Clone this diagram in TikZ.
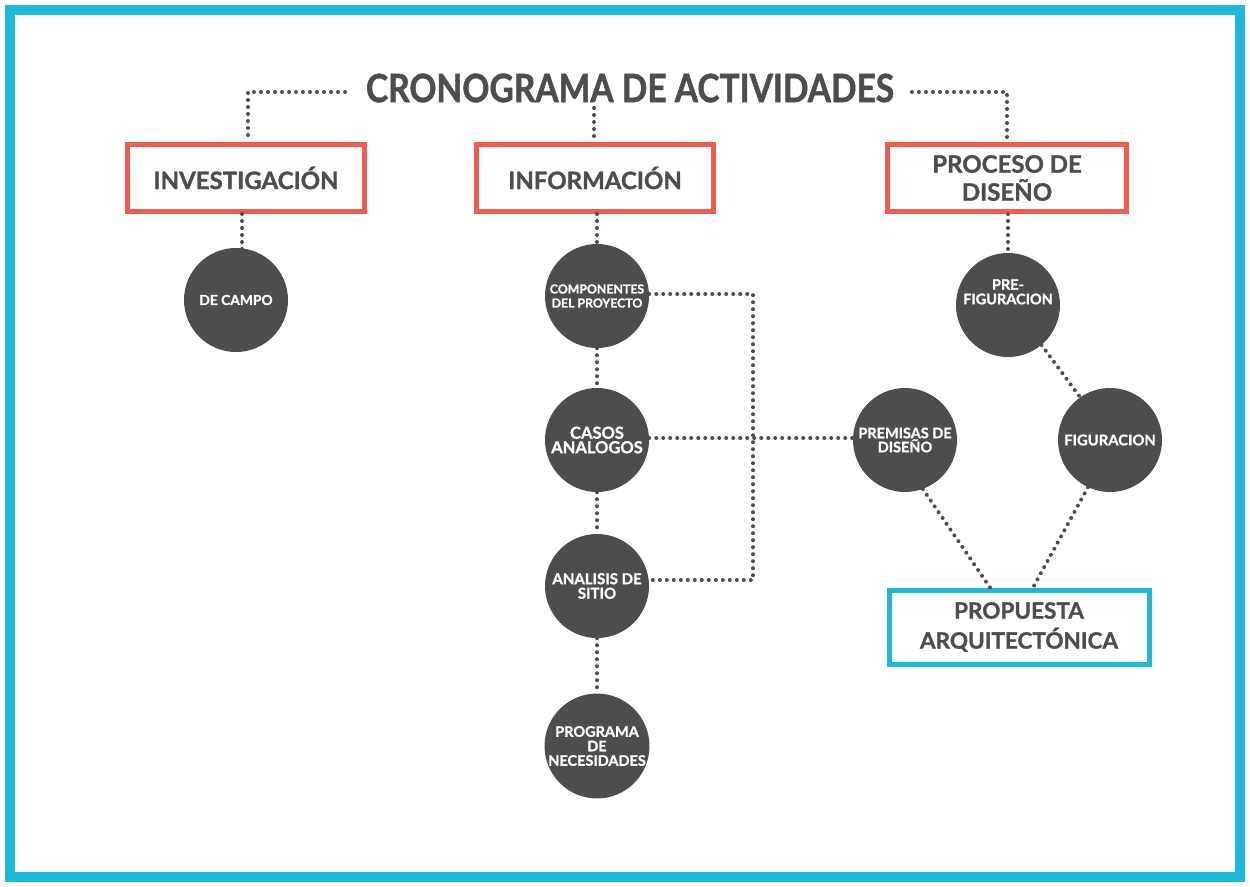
\documentclass[tikz,border=0pt]{standalone}
\usepackage{fontspec}
\setmainfont{Lato}[BoldFeatures={FakeBold=1.2}]
\newfontfamily\titlefont{Lato}[BoldFeatures={FakeBold=1.2,FakeStretch=0.86}]
\definecolor{frame}{HTML}{1DB9D8}
\definecolor{boxred}{HTML}{F05A50}
\definecolor{ink}{HTML}{4D4D4F}
\begin{document}
\begin{tikzpicture}[x=1pt,y=-1pt,
  dotline/.style={ink,line width=4pt,line cap=round,dash pattern=on 0pt off 7pt},
  redbox/.style={draw=boxred,line width=5pt,fill=white,minimum width=237pt,minimum height=67pt,text=ink,font=\bfseries\fontsize{24}{28}\selectfont,align=center,inner sep=0pt},
  bluebox/.style={draw=frame,line width=5pt,fill=white,minimum width=260pt,minimum height=74pt,text=ink,font=\bfseries\fontsize{22.5}{30}\selectfont,align=center,inner sep=0pt},
  disc/.style={circle,fill=ink,minimum size=104pt,inner sep=0pt,text=white,align=center,font=\bfseries\fontsize{14.5}{14.5}\selectfont}]
\useasboundingbox (0,0) rectangle (1250,886);
\fill[white] (0,0) rectangle (1250,886);
\draw[frame,line width=10pt] (10,10) rectangle (1240,877);

% title
\node[text=ink,font=\titlefont\bfseries\fontsize{39}{44}\selectfont,inner sep=0pt] (title) at (630,88) {CRONOGRAMA DE ACTIVIDADES};

% boxes
\node[redbox] (inv) at (246,178) {INVESTIGACIÓN};
\node[redbox] (info) at (595,178) {INFORMACIÓN};
\node[redbox,minimum width=239pt] (proc) at (1007,178) {PROCESO DE\\DISEÑO};
\node[bluebox] (prop) at (1019,627) {PROPUESTA\\ARQUITECTÓNICA};

% discs
\node[disc,font=\bfseries\fontsize{13.8}{15}\selectfont] (campo) at (236,300) {DE CAMPO};
\node[disc,font=\bfseries\fontsize{12.3}{14}\selectfont] (comp) at (597,296) {COMPONENTES\\DEL PROYECTO};
\node[disc,font=\bfseries\fontsize{16.5}{14.5}\selectfont] (casos) at (597,440) {CASOS\\ANALOGOS};
\node[disc,font=\bfseries\fontsize{15}{14.5}\selectfont] (anal) at (597,586) {ANALISIS DE\\SITIO};
\node[disc,font=\bfseries\fontsize{14.5}{14.5}\selectfont] (prog) at (597,746) {PROGRAMA\\DE\\NECESIDADES};
\node[disc,font=\bfseries\fontsize{14.5}{14.5}\selectfont] (pref) at (1008,305) {PRE-\\FIGURACION\\[12pt]};
\node[disc,font=\bfseries\fontsize{14.5}{14}\selectfont] (prem) at (905,440) {PREMISAS DE\\DISEÑO};
\node[disc,font=\bfseries\fontsize{14.8}{15}\selectfont] (fig) at (1110,440) {FIGURACION};

% coordinates for title connectors
\coordinate (tl) at (345,92);
\coordinate (tr) at (912,92);

\draw[dotline] (tl) -- (248,92) -- (inv.north -| 248,0);
\draw[dotline] (tr) -- (1007,92) -- (proc.north);
\draw[dotline] (594,108) -- (info.north -| 594,0);

\draw[dotline] (inv.south -| 242,0) -- (242,264);
\draw[dotline] (info.south -| 597,0) -- (comp.north);
\draw[dotline] (comp.south) -- (casos.north);
\draw[dotline] (casos.south) -- (anal.north);
\draw[dotline] (anal.south) -- (prog.north);
\draw[dotline] (proc.south -| 1008,0) -- (pref.north);

\draw[dotline] (comp.east |- 0,294) -- (753,294) -- (753,580) -- (anal.east |- 0,580);
\draw[dotline] (casos.east |- 0,438) -- (prem.west |- 0,438);

\draw[dotline] (pref.-50) -- (fig.125);
\draw[dotline] (prem.-70) -- (prop.north -| 990,0);
\draw[dotline] (fig.-115) -- (prop.north -| 1033,0);
\end{tikzpicture}
\end{document}
